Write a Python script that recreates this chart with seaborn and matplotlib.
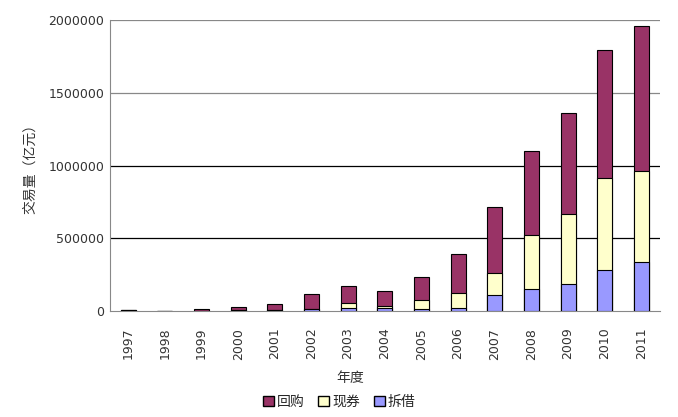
import numpy as np
import pandas as pd
import matplotlib
matplotlib.use("Agg")
import matplotlib.pyplot as plt
import seaborn as sns
from matplotlib.patches import Patch

years = ["1997", "1998", "1999", "2000", "2001", "2002", "2003", "2004",
         "2005", "2006", "2007", "2008", "2009", "2010", "2011"]
chaijie = [10000, 2000, 3300, 6700, 8000, 12000, 24000, 18000,
           13000, 21000, 108000, 153000, 186000, 280000, 335000]
xianquan = [0, 0, 0, 100, 800, 4000, 30000, 20000,
            62000, 101000, 155000, 369000, 478000, 636000, 627000]
huigou = [300, 1000, 9000, 18000, 37000, 99000, 118000, 99000,
          159000, 268000, 449000, 575000, 695000, 876000, 996000]

df = pd.DataFrame({"年份": years, "拆借": chaijie, "现券": xianquan, "回购": huigou})
df["low"] = df["拆借"]
df["mid"] = df["拆借"] + df["现券"]
df["top"] = df["mid"] + df["回购"]

sns.set_style("white")
plt.rcParams["font.family"] = ["Noto Sans CJK SC", "DejaVu Sans"]

fig = plt.figure(figsize=(6.78, 4.17), dpi=100)
ax = fig.add_axes([0.162, 0.254, 0.811, 0.698])

c_hg, c_xq, c_cj = "#993366", "#FFFFCC", "#9999FF"

for col, c in [("top", c_hg), ("mid", c_xq), ("low", c_cj)]:
    sns.barplot(data=df, x="年份", y=col, color=c, width=0.41, saturation=1,
                edgecolor="black", linewidth=0.8, ax=ax, zorder=3)

ax.set_ylim(0, 2000000)
ax.set_xlim(-0.5, len(years) - 0.5)
ax.set_yticks([0, 500000, 1000000, 1500000, 2000000])
ax.set_yticklabels(["0", "500000", "1000000", "1500000", "2000000"],
                   fontsize=9, color="#333333", family="DejaVu Sans")
for v, c in [(500000, "black"), (1000000, "black"), (1500000, "#888888"), (2000000, "#888888")]:
    ax.axhline(v, color=c, linewidth=0.9, zorder=1)

ax.set_xticks(range(len(years)))
ax.set_xticklabels(years, rotation=90, fontsize=9, color="#333333", family="DejaVu Sans")
ax.set_xticks(np.arange(len(years) - 1) + 0.5, minor=True)
ax.tick_params(axis="x", which="major", length=0, pad=12)
ax.tick_params(axis="x", which="minor", length=4, direction="out", color="#666666")
ax.tick_params(axis="y", length=0, pad=4)

for s in ["top", "right"]:
    ax.spines[s].set_visible(False)
ax.spines["left"].set_color("#888888")
ax.spines["bottom"].set_color("#888888")

ax.set_xlabel("")
ax.set_ylabel("交易量（亿元）", fontsize=10, color="#333333", labelpad=8)
fig.text(0.516, 0.093, "年度", ha="center", va="center", fontsize=10, color="#333333")

handles = [Patch(facecolor=c_hg, edgecolor="black", label="回购"),
           Patch(facecolor=c_xq, edgecolor="black", label="现券"),
           Patch(facecolor=c_cj, edgecolor="black", label="拆借")]
fig.legend(handles=handles, loc="center", bbox_to_anchor=(0.5, 0.036), ncol=3,
           frameon=False, fontsize=10, handlelength=0.8, handleheight=0.8,
           handletextpad=0.2, columnspacing=1.0)

fig.savefig("out.png", dpi=100)
